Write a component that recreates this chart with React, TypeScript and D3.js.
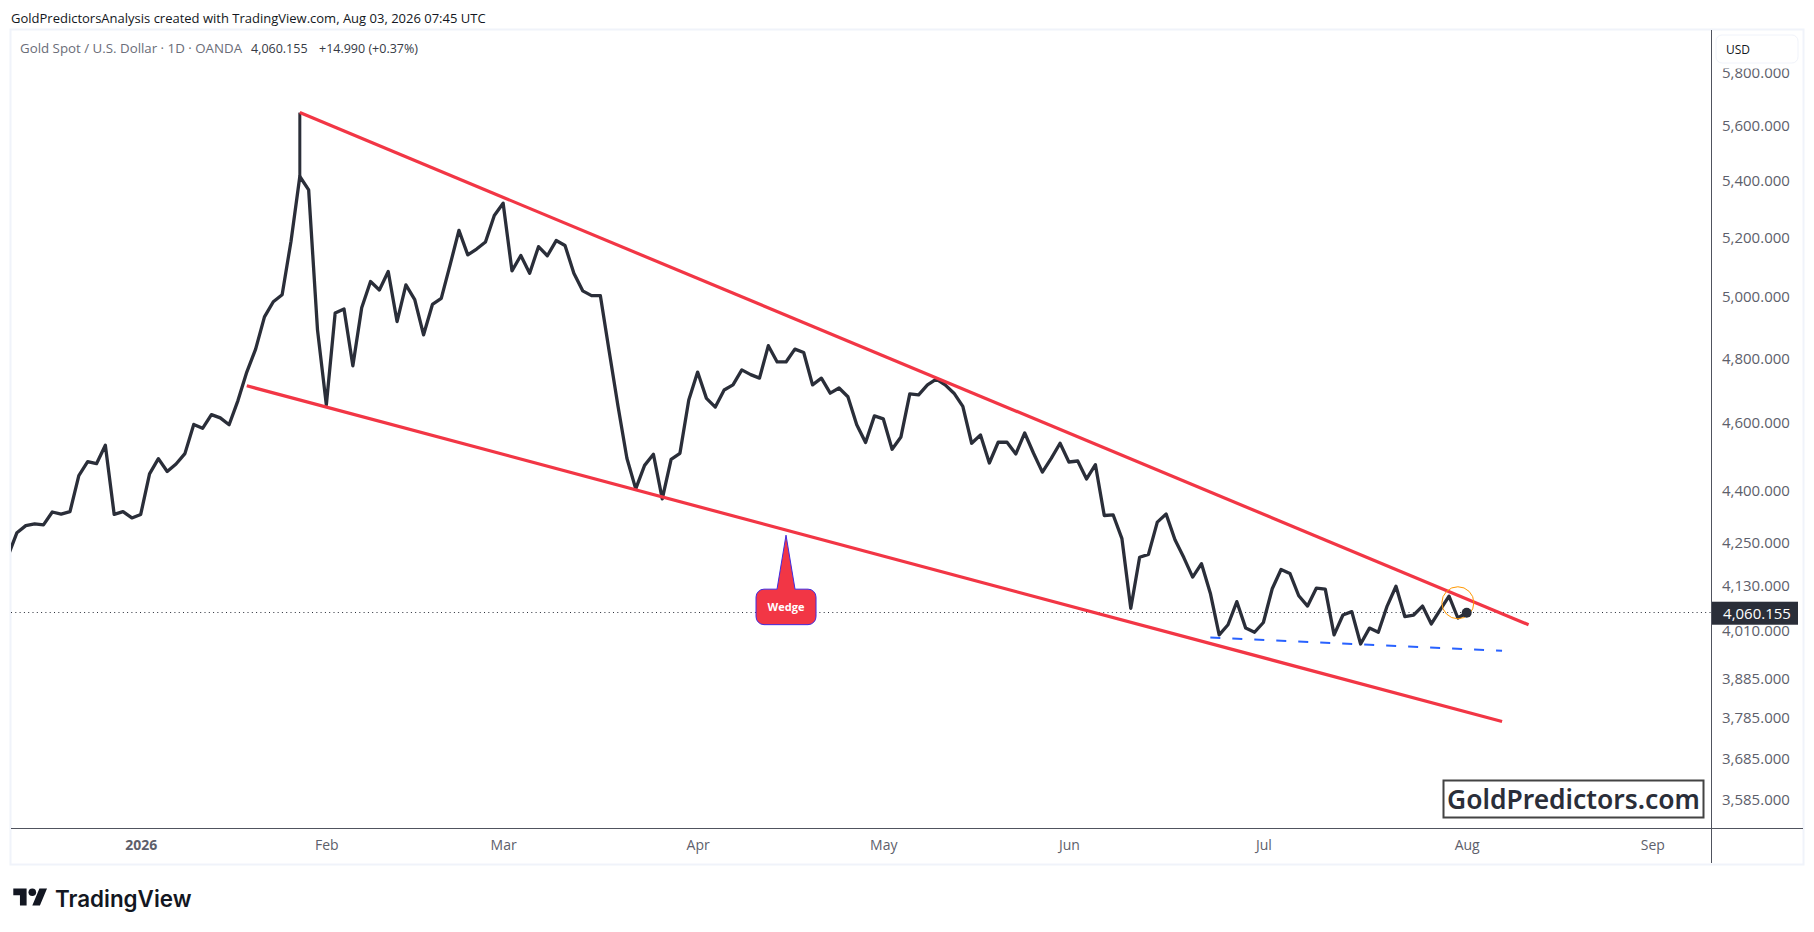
import React, { useEffect, useRef } from 'react';
import * as d3 from 'd3';

// daily closes, one per trading day, oldest first
const closes = [
  4216, 4281, 4301, 4306, 4303, 4340, 4334, 4341, 4446, 4487, 4481, 4536, 4333, 4341, 4323, 4333,
  4451, 4496, 4458, 4480, 4511, 4599, 4587, 4629, 4619, 4598, 4672, 4761, 4834, 4938, 4988, 5011,
  5191, 5419, 5371, 4896, 4659, 4951, 4964, 4781, 4968, 5055, 5027, 5089, 4923, 5044, 4995, 4880,
  4979, 4999, 5111, 5229, 5145, 5165, 5189, 5281, 5324, 5091, 5143, 5083, 5173, 5142, 5194, 5177,
  5083, 5024, 5008, 5008, 4826, 4654, 4497, 4407, 4476, 4509, 4378, 4494, 4512, 4674, 4761, 4679,
  4652, 4705, 4721, 4768, 4753, 4742, 4845, 4793, 4793, 4834, 4823, 4721, 4742, 4695, 4711, 4684,
  4598, 4544, 4625, 4616, 4524, 4561, 4693, 4690, 4721, 4739, 4721, 4695, 4654, 4542, 4567, 4483,
  4545, 4545, 4510, 4573, 4512, 4456, 4497, 4542, 4486, 4489, 4436, 4478, 4330, 4332, 4264, 4072,
  4212, 4220, 4311, 4334, 4261, 4211, 4157, 4194, 4113, 4001, 4028, 4090, 4019, 4008, 4034, 4125,
  4178, 4167, 4106, 4078, 4127, 4124, 4001, 4054, 4063, 3977, 4019, 4008, 4078, 4132, 4050, 4054,
  4078, 4030, 4068, 4105, 4046, 4060.155,
];

const priceTicks = [5800, 5600, 5400, 5200, 5000, 4800, 4600, 4400, 4250, 4130, 4010, 3885, 3785, 3685, 3585];
const monthLabels = ['2026', 'Feb', 'Mar', 'Apr', 'May', 'Jun', 'Jul', 'Aug', 'Sep'];
const monthIndexes = [15, 36, 56, 78, 99, 120, 142, 165, 186];

const lastPrice = 4060.155;
const spikeIndex = 33;
const spikeHigh = 5653;
const upperTrend: [number, number][] = [[33, 5653], [172, 4028]];
const lowerTrend: [number, number][] = [[27, 4718], [169, 3778]];
const supportLine: [number, number][] = [[136, 3994], [169, 3959]];
const wedgeNote = { index: 88, price: 4274, label: 'Wedge' };
const circleMark = { index: 164, price: 4087 };

const uiFont = '"Open Sans", sans-serif';
const dark = '#2a2e39';
const red = '#f23645';

const App: React.FC = () => {
  const svgRef = useRef<SVGSVGElement>(null);

  useEffect(() => {
    if (!svgRef.current) return;
    const svg = d3.select(svgRef.current);
    svg.selectAll('*').remove();

    const left = 11;
    const top = 30;
    const right = 1711;
    const bottom = 828;
    const outerRight = 1803;
    const outerBottom = 864;

    const x = d3.scaleLinear().domain([0, closes.length - 1]).range([8.1, 1466.7]);
    const y = d3.scaleLog().domain([5800, 3585]).range([73.8, 800.8]);

    svg.append('rect').attr('width', 1814).attr('height', 932).attr('fill', '#fff');

    svg.append('text')
      .attr('x', 11).attr('y', 17.5).attr('dominant-baseline', 'central')
      .style('font-family', uiFont).style('font-size', '13px').attr('fill', '#131722')
      .text('GoldPredictorsAnalysis created with TradingView.com, Aug 03, 2026 07:45 UTC');

    // outer frame
    svg.append('rect')
      .attr('x', left - 0.5).attr('y', top - 0.5)
      .attr('width', outerRight - left + 1).attr('height', outerBottom - top + 1)
      .attr('fill', 'none').attr('stroke', '#f0f3fa').attr('stroke-width', 2);

    const defs = svg.append('defs');
    defs.append('clipPath').attr('id', 'pane')
      .append('rect').attr('x', left).attr('y', top).attr('width', right - left).attr('height', bottom - top);

    const pane = svg.append('g').attr('clip-path', 'url(#pane)');

    // last price line
    const lastY = Math.floor(y(lastPrice)) + 0.5;
    pane.append('line')
      .attr('x1', left).attr('x2', right).attr('y1', lastY).attr('y2', lastY)
      .attr('stroke', dark).attr('stroke-width', 1).attr('stroke-dasharray', '1 3.3');

    // price line
    const line = d3.line<number>().x((_, i) => x(i)).y(d => y(d));
    pane.append('path')
      .attr('d', line(closes))
      .attr('fill', 'none').attr('stroke', dark).attr('stroke-width', 3.3)
      .attr('stroke-linejoin', 'round');
    pane.append('line')
      .attr('x1', x(spikeIndex)).attr('x2', x(spikeIndex))
      .attr('y1', y(closes[spikeIndex])).attr('y2', y(spikeHigh))
      .attr('stroke', dark).attr('stroke-width', 3);

    // drawings
    const drawn = d3.line<[number, number]>().x(d => x(d[0])).y(d => y(d[1]));
    [upperTrend, lowerTrend].forEach(t => {
      pane.append('path').attr('d', drawn(t))
        .attr('fill', 'none').attr('stroke', red).attr('stroke-width', 3.2);
    });
    pane.append('path').attr('d', drawn(supportLine))
      .attr('fill', 'none').attr('stroke', '#2962ff').attr('stroke-width', 2)
      .attr('stroke-dasharray', '10 12');

    pane.append('circle')
      .attr('cx', x(circleMark.index)).attr('cy', y(circleMark.price)).attr('r', 16)
      .attr('fill', 'none').attr('stroke', '#ff9800').attr('stroke-width', 1);
    pane.append('circle')
      .attr('cx', x(closes.length - 1)).attr('cy', y(lastPrice)).attr('r', 5)
      .attr('fill', dark);

    // wedge callout
    const tipX = x(wedgeNote.index);
    const tipY = y(wedgeNote.price);
    const boxTop = tipY + 54;
    const boxBottom = tipY + 89.5;
    const boxLeft = tipX - 30;
    const boxRight = tipX + 30;
    const r = 8;
    const note = d3.path();
    note.moveTo(tipX, tipY);
    note.lineTo(tipX + 9, boxTop);
    note.lineTo(boxRight - r, boxTop);
    note.arcTo(boxRight, boxTop, boxRight, boxTop + r, r);
    note.lineTo(boxRight, boxBottom - r);
    note.arcTo(boxRight, boxBottom, boxRight - r, boxBottom, r);
    note.lineTo(boxLeft + r, boxBottom);
    note.arcTo(boxLeft, boxBottom, boxLeft, boxBottom - r, r);
    note.lineTo(boxLeft, boxTop + r);
    note.arcTo(boxLeft, boxTop, boxLeft + r, boxTop, r);
    note.lineTo(tipX - 9, boxTop);
    note.closePath();
    pane.append('path').attr('d', note.toString())
      .attr('fill', red).attr('stroke', '#3f2be0').attr('stroke-width', 1);
    pane.append('text')
      .attr('x', tipX).attr('y', tipY + 71).attr('text-anchor', 'middle').attr('dominant-baseline', 'central')
      .style('font-family', uiFont).style('font-size', '11px').style('font-weight', 700)
      .attr('fill', '#fff').text(wedgeNote.label);

    // site box
    svg.append('rect')
      .attr('x', 1443.5).attr('y', 780.5).attr('width', 260).attr('height', 37)
      .attr('fill', '#fff').attr('stroke', '#434343').attr('stroke-width', 2);
    svg.append('text')
      .attr('x', 1573.5).attr('y', 799).attr('text-anchor', 'middle').attr('dominant-baseline', 'central')
      .style('font-family', '"Noto Sans", sans-serif').style('font-size', '26.4px').style('font-weight', 600)
      .attr('fill', dark).text('GoldPredictors.com');

    // price axis
    const yAxis = d3.axisRight(y)
      .tickValues(priceTicks)
      .tickFormat(d => d3.format(',.3f')(d as number))
      .tickSize(0)
      .tickPadding(11);
    const yG = svg.append('g').attr('transform', `translate(${right},-1)`).call(yAxis);
    yG.select('.domain').remove();
    yG.selectAll('text')
      .style('font-family', uiFont).style('font-size', '15px').attr('fill', '#5d606b');

    // time axis
    const xAxis = d3.axisBottom(x)
      .tickValues(monthIndexes)
      .tickFormat((_, i) => monthLabels[i])
      .tickSize(0)
      .tickPadding(12);
    const xG = svg.append('g').attr('transform', `translate(0,${bottom})`).call(xAxis);
    xG.select('.domain').remove();
    xG.selectAll('text')
      .style('font-family', uiFont).style('font-size', '14px').attr('fill', '#5d606b')
      .style('font-weight', (_, i) => (i === 0 ? 700 : 400));

    // axis borders
    svg.append('line')
      .attr('x1', right + 0.5).attr('x2', right + 0.5).attr('y1', top).attr('y2', outerBottom - 1)
      .attr('stroke', '#50535e');
    svg.append('line')
      .attr('x1', left).attr('x2', outerRight).attr('y1', bottom + 0.5).attr('y2', bottom + 0.5)
      .attr('stroke', '#50535e');

    // last price badge
    const badgeY = y(lastPrice);
    svg.append('rect')
      .attr('x', right + 1).attr('y', badgeY - 11).attr('width', 86).attr('height', 23)
      .attr('fill', dark);
    svg.append('text')
      .attr('x', right + 46).attr('y', badgeY + 0.5).attr('text-anchor', 'middle').attr('dominant-baseline', 'central')
      .style('font-family', uiFont).style('font-size', '15px').style('font-weight', 500)
      .attr('fill', '#fff').text(d3.format(',.3f')(lastPrice));

    // currency box, covers the top of the first tick
    svg.append('rect')
      .attr('x', right + 1).attr('y', 31).attr('width', 90).attr('height', 37.5)
      .attr('fill', '#fff');
    svg.append('rect')
      .attr('x', 1716).attr('y', 35).attr('width', 82).attr('height', 28).attr('rx', 6)
      .attr('fill', '#fff').attr('stroke', '#f0f3fa');
    svg.append('text')
      .attr('x', 1726).attr('y', 49.5).attr('dominant-baseline', 'central')
      .style('font-family', uiFont).style('font-size', '12px').attr('fill', '#131722').text('USD');

    // legend
    const legend = svg.append('text')
      .attr('x', 20).attr('y', 47.5).attr('dominant-baseline', 'central')
      .style('font-family', uiFont).style('font-size', '12.5px');
    legend.append('tspan').attr('fill', '#6a6d78').style('font-size', '13.3px').text('Gold Spot / U.S. Dollar · 1D · OANDA');
    legend.append('tspan').attr('x', 251).attr('fill', '#363a45').text('4,060.155');
    legend.append('tspan').attr('x', 319).attr('fill', '#363a45').text('+14.990 (+0.37%)');

    // logo
    const logo = svg.append('g').attr('transform', 'translate(13.3,884.7) scale(0.95)').attr('fill', '#131722');
    logo.append('path').attr('d', 'M14 22H7V11H0V4h14v18zM28 22h-8l7.5-18h8L28 22z');
    logo.append('circle').attr('cx', 20).attr('cy', 8).attr('r', 4);
    svg.append('text')
      .attr('x', 55).attr('y', 898).attr('dominant-baseline', 'central')
      .style('font-family', 'Inter, sans-serif').style('font-size', '22.4px').style('font-weight', 600)
      .attr('fill', '#131722').text('TradingView');
  }, []);

  return (
    <svg
      ref={svgRef}
      width={1814}
      height={932}
      style={{ position: 'absolute', left: 0, top: 0, display: 'block' }}
    />
  );
};

export default App;
